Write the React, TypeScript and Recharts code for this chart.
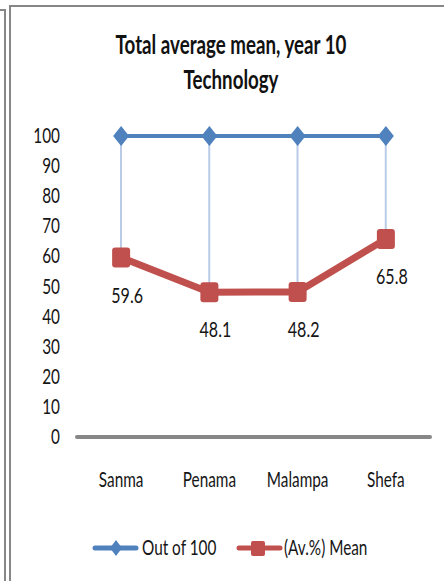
import { ComposedChart, Line, Bar, XAxis, YAxis } from 'recharts';

const regions = ['Sanma', 'Penama', 'Malampa', 'Shefa'];
const outOf100 = [100, 100, 100, 100];
const meanPct = [59.6, 48.1, 48.2, 65.8];
const yTicks = [0, 10, 20, 30, 40, 50, 60, 70, 80, 90, 100];

const BLUE = '#4F81BD';
const RED = '#C0504D';
const DROP = '#B9CBE6';
const AXIS = '#878787';
const INK = '#151515';
const FONT = 'Lato, "Open Sans", sans-serif';
const SX = 0.73; // horizontal squeeze, the source font is a narrow one

const data = regions.map((region, i) => ({
  region,
  out: outOf100[i],
  mean: meanPct[i],
  drop: [meanPct[i], outOf100[i]],
}));

// narrow text: scaled around its anchor point
function NText({ x, y, anchor = 'middle', size = 21, children }: { x: number; y: number; anchor?: 'start' | 'middle' | 'end'; size?: number; children: React.ReactNode }) {
  return (
    <text transform={`translate(${x},${y}) scale(${SX},1)`} textAnchor={anchor} fontSize={size} fill={INK} fontFamily={FONT}>
      {children}
    </text>
  );
}

// ─── markers ───
// eslint-disable-next-line @typescript-eslint/no-explicit-any
function Diamond(props: any) {
  const { cx, cy } = props;
  if (cx == null || cy == null) return null;
  return <polygon points={`${cx},${cy - 10} ${cx + 8},${cy} ${cx},${cy + 10} ${cx - 8},${cy}`} fill={BLUE} />;
}

// eslint-disable-next-line @typescript-eslint/no-explicit-any
function Square(props: any) {
  const { cx, cy } = props;
  if (cx == null || cy == null) return null;
  return <rect x={cx - 9} y={cy - 10} width={18} height={20} rx={3} fill={RED} />;
}

// eslint-disable-next-line @typescript-eslint/no-explicit-any
function MeanLabel(props: any) {
  const { x, y, value } = props;
  return <NText x={x + 6} y={y + 45} size={22}>{value}</NText>;
}

// eslint-disable-next-line @typescript-eslint/no-explicit-any
function YTick(props: any) {
  const { x, y, payload } = props;
  return <NText x={x} y={y + 7} anchor="end">{payload.value}</NText>;
}

// eslint-disable-next-line @typescript-eslint/no-explicit-any
function XTick(props: any) {
  const { x, y, payload } = props;
  return <NText x={x} y={y + 14}>{payload.value}</NText>;
}

function LegendBox() {
  return (
    <svg width={444} height={30} style={{ display: 'block' }}>
      <line x1={95} y1={15} x2={136} y2={15} stroke={BLUE} strokeWidth={5} strokeLinecap="round" />
      <polygon points="116,7 122,15 116,23 110,15" fill={BLUE} />
      <NText x={142} y={22} anchor="start">Out of 100</NText>
      <line x1={239} y1={15} x2={280} y2={15} stroke={RED} strokeWidth={5} strokeLinecap="round" />
      <rect x={251} y={8} width={14} height={15} rx={2} fill={RED} />
      <NText x={284} y={22} anchor="start">(Av.%) Mean</NText>
    </svg>
  );
}

export default function App() {
  return (
    <div style={{ position: 'relative', width: 444, height: 581, background: '#fff', overflow: 'hidden' }}>
      <style>{'body{margin:0}'}</style>
      {/* frames */}
      <div style={{ position: 'absolute', left: 0, top: 9, width: 6, height: 2, background: AXIS }} />
      <div style={{ position: 'absolute', left: 4, top: 9, width: 2, height: 572, background: AXIS }} />
      <div style={{ position: 'absolute', left: 9, top: 5, width: 2, height: 576, background: AXIS }} />
      <div style={{ position: 'absolute', left: 9, top: 5, width: 435, height: 2, background: AXIS }} />

      <div
        style={{
          position: 'absolute', top: 27, left: 0, width: 462, textAlign: 'center',
          fontFamily: FONT, fontWeight: 'bold', fontSize: 26, lineHeight: '35px', color: '#111',
          transform: 'scaleX(0.72)', transformOrigin: '231px 0',
        }}
      >
        Total average mean, year 10
        <br />
        Technology
      </div>

      <div style={{ position: 'absolute', left: 0, top: 0 }}>
        <ComposedChart width={444} height={581} data={data} margin={{ top: 136, right: 14, bottom: 84, left: 0 }}>
          <XAxis
            dataKey="region"
            axisLine={{ stroke: AXIS, strokeWidth: 4, strokeLinecap: 'round' }}
            tickLine={false}
            tickSize={0}
            tickMargin={36}
            tick={<XTick />}
            interval={0}
            height={60}
          />
          <YAxis
            domain={[0, 100]}
            ticks={yTicks}
            interval={0}
            width={77}
            axisLine={false}
            tickLine={false}
            tickSize={0}
            tickMargin={17}
            tick={<YTick />}
          />
          <Bar dataKey="drop" barSize={2} fill={DROP} isAnimationActive={false} legendType="none" />
          <Line
            dataKey="out"
            stroke={BLUE}
            strokeWidth={4}
            dot={<Diamond />}
            activeDot={false}
            isAnimationActive={false}
          />
          <Line
            dataKey="mean"
            stroke={RED}
            strokeWidth={7}
            dot={<Square />}
            activeDot={false}
            label={<MeanLabel />}
            isAnimationActive={false}
          />
        </ComposedChart>
      </div>

      <div style={{ position: 'absolute', left: 0, top: 533 }}>
        <LegendBox />
      </div>
    </div>
  );
}
